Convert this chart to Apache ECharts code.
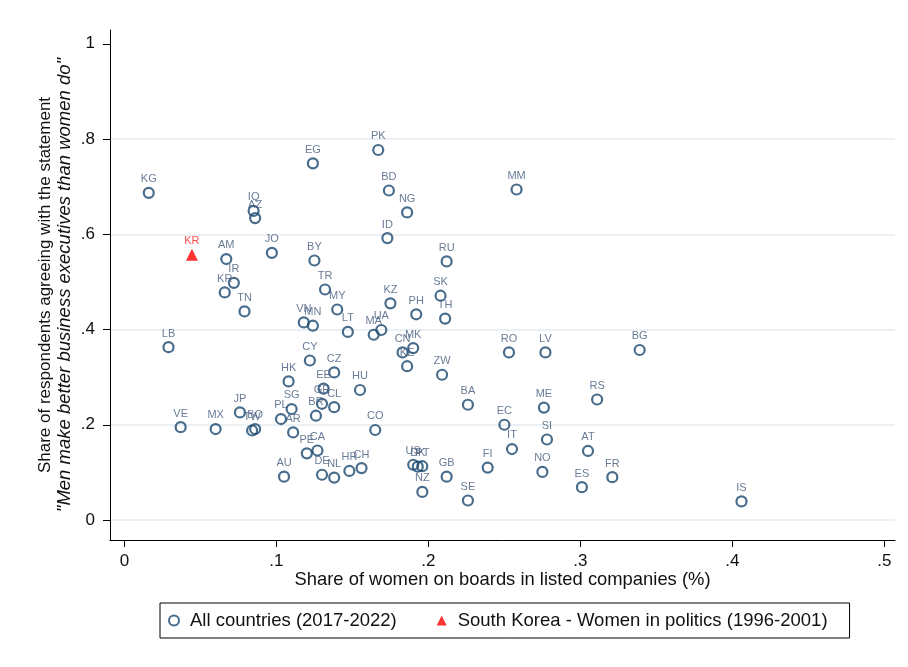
<!DOCTYPE html>
<html>
<head>
<meta charset="utf-8">
<script src="https://cdn.jsdelivr.net/npm/echarts@6/dist/echarts.min.js"></script>
<style>
  html, body { margin: 0; padding: 0; background: #fff; }
  #chart { width: 908px; height: 667px; }
</style>
</head>
<body>
<div id="chart"></div>
<script>
// country codes, board share (x), agreement share (y)
const countries = ['KG','AM','IQ','AZ','IR','KR','TN','JO','EG','PK','BD','NG','ID','BY','RU','TR','SK','MY','KZ','PH','TH','VN','MN','LT','MA','UA','MK','CN','KE','CY','CZ','ZW','HK','EE','HU','GR','CL','BA','SG','JP','BR','PL','TW','BO','AR','CO','PE','CA','AU','DE','NL','HR','CH','US','DK','PT','GB','NZ','SE','LB','VE','MX','MM','RO','LV','BG','EC','ME','RS','SI','IT','AT','FI','NO','FR','ES','IS'];
const boardShare = [0.016,0.067,0.085,0.086,0.072,0.066,0.079,0.097,0.124,0.167,0.174,0.186,0.173,0.125,0.212,0.132,0.208,0.140,0.175,0.192,0.211,0.118,0.124,0.147,0.164,0.169,0.190,0.183,0.186,0.122,0.138,0.209,0.108,0.131,0.155,0.130,0.138,0.226,0.110,0.076,0.126,0.103,0.084,0.086,0.111,0.165,0.120,0.127,0.105,0.130,0.138,0.148,0.156,0.190,0.193,0.196,0.212,0.196,0.226,0.029,0.037,0.060,0.258,0.253,0.277,0.339,0.250,0.276,0.311,0.278,0.255,0.305,0.239,0.275,0.321,0.301,0.406];
const agreeShare = [0.687,0.548,0.649,0.634,0.498,0.478,0.438,0.561,0.749,0.777,0.692,0.646,0.592,0.545,0.543,0.484,0.471,0.442,0.455,0.432,0.423,0.415,0.408,0.395,0.389,0.399,0.361,0.352,0.323,0.335,0.310,0.305,0.291,0.276,0.273,0.244,0.237,0.242,0.233,0.226,0.219,0.212,0.188,0.191,0.184,0.189,0.140,0.146,0.091,0.095,0.089,0.103,0.109,0.116,0.112,0.113,0.091,0.059,0.041,0.363,0.195,0.191,0.694,0.352,0.352,0.357,0.200,0.236,0.253,0.169,0.149,0.145,0.110,0.101,0.090,0.069,0.039];

// South Korea, women in politics
const korea = ['KR', 0.0444, 0.557];

const xTicks = [0, 0.1, 0.2, 0.3, 0.4, 0.5];
const yTicks = [0, 0.2, 0.4, 0.6, 0.8, 1];
const yGrid = [0, 0.2, 0.4, 0.6, 0.8];

const navy = '#1a476f';
const labelColor = '#435a7c';
const font = 'Liberation Sans, Arial, sans-serif';

function fmt(v) {
  if (v === 0) return '0';
  if (v === 1) return '1';
  return String(Math.round(v * 10) / 10).replace('0.', '.');
}

const allData = countries.map((c, i) => [boardShare[i], agreeShare[i], c]);

const option = {
  animation: false,
  backgroundColor: '#fff',
  textStyle: { fontFamily: font },
  grid: { left: 110, right: 13, top: 30, bottom: 127 },
  legend: {
    left: 160,
    top: 603,
    orient: 'horizontal',
    borderColor: '#000',
    borderWidth: 1,
    borderRadius: 0,
    padding: [8, 22, 8, 8],
    itemGap: 40,
    itemWidth: 10,
    itemHeight: 10,
    textStyle: { fontSize: 18.5, color: '#111', fontFamily: font, padding: [0, 0, 0, 6] },
    data: ['All countries (2017-2022)', 'South Korea - Women in politics (1996-2001)']
  },
  xAxis: {
    type: 'value',
    min: -0.0095,
    max: 0.507,
    name: 'Share of women on boards in listed companies (%)',
    nameLocation: 'middle',
    nameGap: 31,
    nameMoveOverlap: false,
    nameTextStyle: { fontSize: 18.4, color: '#111' },
    axisLine: { show: true, onZero: false, lineStyle: { color: '#000', width: 1 } },
    axisTick: { show: true, length: 7, customValues: xTicks, lineStyle: { color: '#000' } },
    axisLabel: { customValues: xTicks, formatter: fmt, fontSize: 17, color: '#111', margin: 13 },
    splitLine: { show: false }
  },
  yAxis: [
    {
      type: 'value',
      min: -0.042,
      max: 1.029,
      name: '{a|Share of respondents agreeing with the statement}\n{b|"Men make better business executives than women do"}',
      nameLocation: 'middle',
      nameRotate: 90,
      nameGap: 35,
      nameMoveOverlap: false,
      nameTextStyle: {
        rich: {
          a: { fontSize: 17, color: '#111', lineHeight: 20, fontFamily: font },
          b: { fontSize: 18.5, color: '#111', lineHeight: 20, fontStyle: 'italic', fontFamily: font }
        }
      },
      axisLine: { show: true, onZero: false, lineStyle: { color: '#000', width: 1 } },
      axisTick: { show: true, length: 7, customValues: yTicks, lineStyle: { color: '#000' } },
      axisLabel: { customValues: yTicks, formatter: fmt, fontSize: 17, color: '#111', margin: 15 },
      splitLine: { show: false }
    },
    {
      // gridlines only
      type: 'value',
      position: 'left',
      min: -0.042,
      max: 1.029,
      axisLine: { show: false },
      axisTick: { show: false, customValues: yGrid },
      axisLabel: { show: false, customValues: yGrid },
      splitLine: { show: true, lineStyle: { color: '#eaf0f3', width: 2 } }
    }
  ],
  series: [
    {
      name: 'All countries (2017-2022)',
      type: 'scatter',
      symbol: 'circle',
      symbolSize: 10,
      itemStyle: { color: 'rgba(0,0,0,0)', borderColor: navy, borderWidth: 2.2 },
      label: {
        show: true,
        position: 'top',
        distance: 2,
        formatter: p => p.data[2],
        fontSize: 11,
        color: labelColor
      },
      emphasis: { disabled: true },
      data: allData
    },
    {
      name: 'South Korea - Women in politics (1996-2001)',
      type: 'scatter',
      symbol: 'triangle',
      symbolSize: 12,
      itemStyle: { color: '#ff0000' },
      label: {
        show: true,
        position: 'top',
        distance: 2,
        formatter: p => p.data[2],
        fontSize: 11,
        color: '#ff2020'
      },
      emphasis: { disabled: true },
      data: [[korea[1], korea[2], korea[0]]]
    }
  ]
};

const myChart = echarts.init(document.getElementById('chart'));
myChart.setOption(option);
</script>
</body>
</html>
